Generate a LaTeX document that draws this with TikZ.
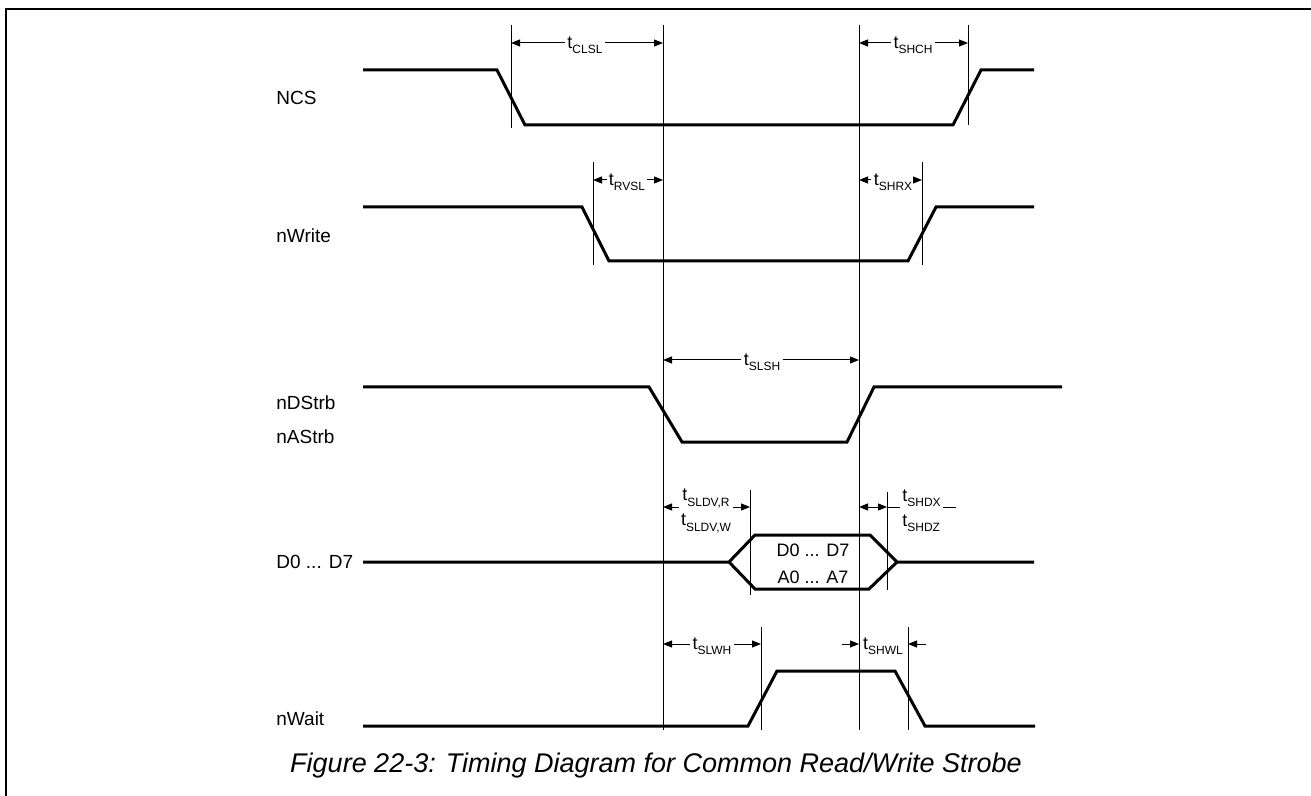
\documentclass[tikz,border=0pt]{standalone}
\usepackage{fontspec}
\setmainfont{Liberation Sans}
\usetikzlibrary{arrows.meta,calc}
\newcommand{\tname}[1]{t\raisebox{-0.55ex}{\fontsize{6}{7}\selectfont#1}}
\tikzset{
    signal/.style={
        line width=1.5pt,
        line join=miter
    },
    marker/.style={
        line width=0.5pt
    },
    dim/.style={
        line width=0.5pt,
        -{Triangle[length=4.5pt,width=3.5pt]}
    },
    siglabel/.style={
        anchor=west,
        inner sep=0pt,
        font=\fontsize{9.5}{10}\selectfont
    },
    tlabel/.style={
        inner sep=1pt,
        font=\fontsize{9}{10}\selectfont
    }
}

\begin{document}
\begin{tikzpicture}[x=0.5pt,y=-0.5pt]
\useasboundingbox (0,0) rectangle (1311,796);
\draw[line width=1.2pt] (6,796) -- (6,9) -- (1311,9);
% signal names
\node[siglabel] (ncs) at (276,98) {NCS};
\node[siglabel] (nwrite) at (276,236) {nWrite};
\node[siglabel] (ndstrb) at (276,403) {nDStrb};
\node[siglabel] (nastrb) at (276,437) {nAStrb};
\node[siglabel] (data) at (276,562) {D0 ... D7};
\node[siglabel] (nwait) at (276,719) {nWait};
% waveforms
\draw[signal] (363,70) -- (497,70) -- (525,125) -- (953,125) -- (981,70) -- (1034,70);
\draw[signal] (363,207) -- (582,207) -- (609,261) -- (908,261) -- (936,207) -- (1034,207);
\draw[signal] (363,387) -- (649,387) -- (682,442) -- (847,442) -- (874,387) -- (1062,387);
\draw[signal] (363,562) -- (729,562) -- (755,535) -- (870,535) -- (897,562) -- (1034,562);
\draw[signal] (729,562) -- (755,589) -- (869,589) -- (897,562);
\node[align=center, inner sep=0pt, font=\fontsize{9}{13.5}\selectfont] (bus) at (813,564) {D0 ... D7\\A0 ... A7};
\draw[signal] (363,726) -- (748,726) -- (777,671) -- (895,671) -- (925,726) -- (1035,726);
% markers
\draw[marker] (511,25) -- (511,128);
\draw[marker] (663,25) -- (663,730);
\draw[marker] (859,25) -- (859,730);
\draw[marker] (968,25) -- (968,125);
\draw[marker] (593,162) -- (593,265);
\draw[marker] (922,162) -- (922,265);
\draw[marker] (750,490) -- (750,595);
\draw[marker] (887,492) -- (887,590);
\draw[marker] (761,627) -- (761,730);
\draw[marker] (908,627) -- (908,730);
% timing
\node[tlabel] (tclsl) at (585,45) {\tname{CLSL}};
\draw[dim] (tclsl.west |- 0,43) -- (511,43);
\draw[dim] (tclsl.east |- 0,43) -- (663,43);
\node[tlabel] (tshch) at (913,45) {\tname{SHCH}};
\draw[dim] (tshch.west |- 0,43) -- (859,43);
\draw[dim] (tshch.east |- 0,43) -- (968,43);
\node[tlabel] (trvsl) at (627,182) {\tname{RVSL}};
\draw[dim] (trvsl.west |- 0,180) -- (593,180);
\draw[dim] (trvsl.east |- 0,180) -- (663,180);
\node[tlabel] (tshrx) at (893,182) {\tname{SHRX}};
\draw[dim] (tshrx.west |- 0,180) -- (859,180);
\draw[dim] (tshrx.east |- 0,180) -- (922,180);
\node[tlabel] (tslsh) at (762,362) {\tname{SLSH}};
\draw[dim] (tslsh.west |- 0,360) -- (663,360);
\draw[dim] (tslsh.east |- 0,360) -- (859,360);
\node[tlabel, align=center, font=\fontsize{9}{12.5}\selectfont] (tsldv) at (706,511) {\tname{SLDV,R}\\\tname{SLDV,W}};
\draw[dim] (tsldv.west |- 0,507) -- (663,507);
\draw[dim] (tsldv.east |- 0,507) -- (750,507);
\node[tlabel, anchor=west, align=left, font=\fontsize{9}{12.5}\selectfont] (tshdx) at (900,511) {\tname{SHDX}\\\tname{SHDZ}};
\draw[dim, {Triangle[length=4.5pt,width=3.5pt]}-{Triangle[length=4.5pt,width=3.5pt]}] (859,507) -- (887,507);
\draw[marker] (887,507) -- (tshdx.west |- 0,507);
\draw[marker] (tshdx.east |- 0,507) -- ++(13,0);
\node[tlabel] (tslwh) at (712,646) {\tname{SLWH}};
\draw[dim] (tslwh.west |- 0,644) -- (663,644);
\draw[dim] (tslwh.east |- 0,644) -- (761,644);
\node[tlabel] (tshwl) at (883,646) {\tname{SHWL}};
\draw[dim] (842,644) -- (859,644);
\draw[dim] (926,644) -- (908,644);
% caption
\node[font=\fontsize{13.5}{15}\selectfont\itshape] (caption) at (656,766) {Figure 22-3: Timing Diagram for Common Read/Write Strobe};
\end{tikzpicture}
\end{document}
